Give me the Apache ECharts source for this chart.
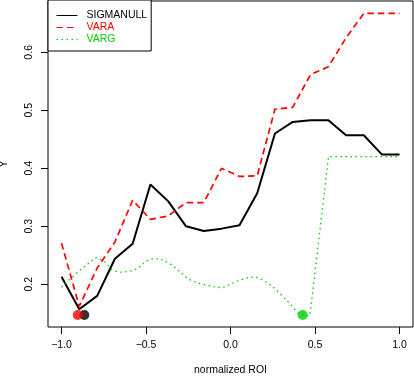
<!DOCTYPE html>
<html lang="en">
<head>
    <meta charset="UTF-8">
    <title>SIGMANULL / VARA / VARG</title>
    <script src="https://cdn.jsdelivr.net/npm/echarts@6/dist/echarts.min.js"></script>
</head>
<body style="margin:0;background:#ffffff">
    <div id="chart" style="width: 414px;height: 376px"></div>
<script>
    // data
    var xGrid = [-1, -0.895, -0.789, -0.684, -0.579, -0.474, -0.368, -0.263, -0.158, -0.053,
                 0.053, 0.158, 0.263, 0.368, 0.474, 0.579, 0.684, 0.789, 0.895, 1];
    var sigmaNull = [0.213, 0.157, 0.180, 0.244, 0.270, 0.372, 0.343, 0.300, 0.292, 0.296,
                     0.302, 0.357, 0.460, 0.480, 0.483, 0.483, 0.457, 0.457, 0.424, 0.424];
    var varA = [0.271, 0.162, 0.228, 0.273, 0.345, 0.312, 0.318, 0.341, 0.341, 0.400,
                0.386, 0.387, 0.502, 0.505, 0.562, 0.575, 0.625, 0.667, 0.667, 0.667];
    var varGX = [-1, -0.95, -0.9, -0.85, -0.8, -0.75, -0.7, -0.65, -0.6, -0.55, -0.5, -0.45,
                 -0.4, -0.35, -0.3, -0.25, -0.2, -0.15, -0.1, -0.05, 0, 0.05, 0.1, 0.15, 0.2,
                 0.25, 0.3, 0.35, 0.4, 0.45, 0.47, 0.58, 1];
    var varGY = [0.195, 0.209, 0.222, 0.234, 0.246, 0.241, 0.224, 0.221, 0.222, 0.227, 0.240, 0.245,
                 0.242, 0.234, 0.222, 0.209, 0.203, 0.199, 0.196, 0.194, 0.200, 0.207, 0.211, 0.213, 0.206,
                 0.196, 0.182, 0.167, 0.150, 0.146, 0.146, 0.420, 0.420];
    // minimum markers
    var minNames = ["SIGMANULL", "VARA", "VARG"];
    var minX = [-0.865, -0.904, 0.427];
    var minY = [0.147, 0.147, 0.147];
    var xTicks = [-1, -0.5, 0, 0.5, 1];
    var yTicks = [0.2, 0.3, 0.4, 0.5, 0.6];

    var colors = {"SIGMANULL": "#000000", "VARA": "#ff0000", "VARG": "#00cd00"};
    var font = "'Liberation Sans', Arial, sans-serif";

    function pairs(xs, ys){
        var out = [];
        for (var i = 0; i < xs.length; i++) out.push([xs[i], ys[i]]);
        return out;
    }
    function fmt(v){
        return v.toFixed(1).replace("-", "\u2212");
    }

    var series = [
        {
            name: "SIGMANULL",
            type: "line",
            data: pairs(xGrid, sigmaNull),
            symbol: "none",
            color: colors["SIGMANULL"],
            itemStyle: {color: colors["SIGMANULL"]},
            lineStyle: {color: colors["SIGMANULL"], width: 2}
        },
        {
            name: "VARA",
            type: "line",
            data: pairs(xGrid, varA),
            symbol: "none",
            color: colors["VARA"],
            itemStyle: {color: colors["VARA"]},
            lineStyle: {color: colors["VARA"], width: 1.7, type: [6.5, 4]}
        },
        {
            name: "VARG",
            type: "line",
            data: pairs(varGX, varGY),
            symbol: "none",
            color: colors["VARG"],
            itemStyle: {color: colors["VARG"]},
            lineStyle: {color: colors["VARG"], width: 1.3, type: [1.5, 3.5]}
        }
    ];
    // black dot first, red dot drawn over it
    for (var i = 0; i < minNames.length; i++) {
        series.push({
            name: minNames[i] + " min",
            type: "scatter",
            symbol: "circle",
            symbolSize: 10,
            data: [[minX[i], minY[i]]],
            itemStyle: {color: colors[minNames[i]]},
            z: 3 + i
        });
    }

    var option = {
        animation: false,
        textStyle: {fontFamily: font},
        grid: {
            left: 48,
            top: 1,
            width: 365,
            height: 326,
            outerBoundsMode: "none",
            show: true,
            borderColor: "#000",
            borderWidth: 1
        },
        legend: {
            data: [
                {name: "SIGMANULL", textStyle: {color: colors["SIGMANULL"]}},
                {name: "VARA", textStyle: {color: colors["VARA"]}},
                {name: "VARG", textStyle: {color: colors["VARG"]}}
            ],
            orient: "vertical",
            left: 48,
            top: 0,
            padding: [10, 4, 6, 8],
            itemWidth: 21,
            itemHeight: 10,
            itemGap: 1,
            borderColor: "#000",
            borderWidth: 1,
            backgroundColor: "#fff",
            itemStyle: {opacity: 0},
            lineStyle: {width: 1},
            textStyle: {fontFamily: font, fontSize: 10.5, padding: [0, 0, 0, 4]}
        },
        xAxis: {
            type: "value",
            min: -1.08,
            max: 1.08,
            name: "normalized ROI",
            nameLocation: "middle",
            nameGap: 38,
            nameTextStyle: {fontFamily: font, fontSize: 10.5, color: "#000"},
            axisLine: {show: false, onZero: false},
            splitLine: {show: false},
            axisTick: {show: true, length: 7, lineStyle: {color: "#000"}, customValues: xTicks},
            axisLabel: {
                customValues: xTicks,
                margin: 13,
                fontSize: 10.5,
                color: "#000",
                fontFamily: font,
                formatter: function(v){ return fmt(v); }
            }
        },
        yAxis: {
            type: "value",
            min: 0.1264,
            max: 0.6885,
            name: "Y",
            nameLocation: "middle",
            nameRotate: 90,
            nameGap: 38,
            nameTextStyle: {fontFamily: font, fontSize: 10.5, color: "#000"},
            axisLine: {show: false, onZero: false},
            splitLine: {show: false},
            axisTick: {show: true, length: 7, lineStyle: {color: "#000"}, customValues: yTicks},
            axisLabel: {
                customValues: yTicks,
                rotate: 90,
                margin: 13,
                fontSize: 10.5,
                color: "#000",
                fontFamily: font,
                formatter: function(v){ return fmt(v); }
            }
        },
        series: series
    };
    echarts.init(document.getElementById("chart")).setOption(option);
</script>
</body>
</html>
